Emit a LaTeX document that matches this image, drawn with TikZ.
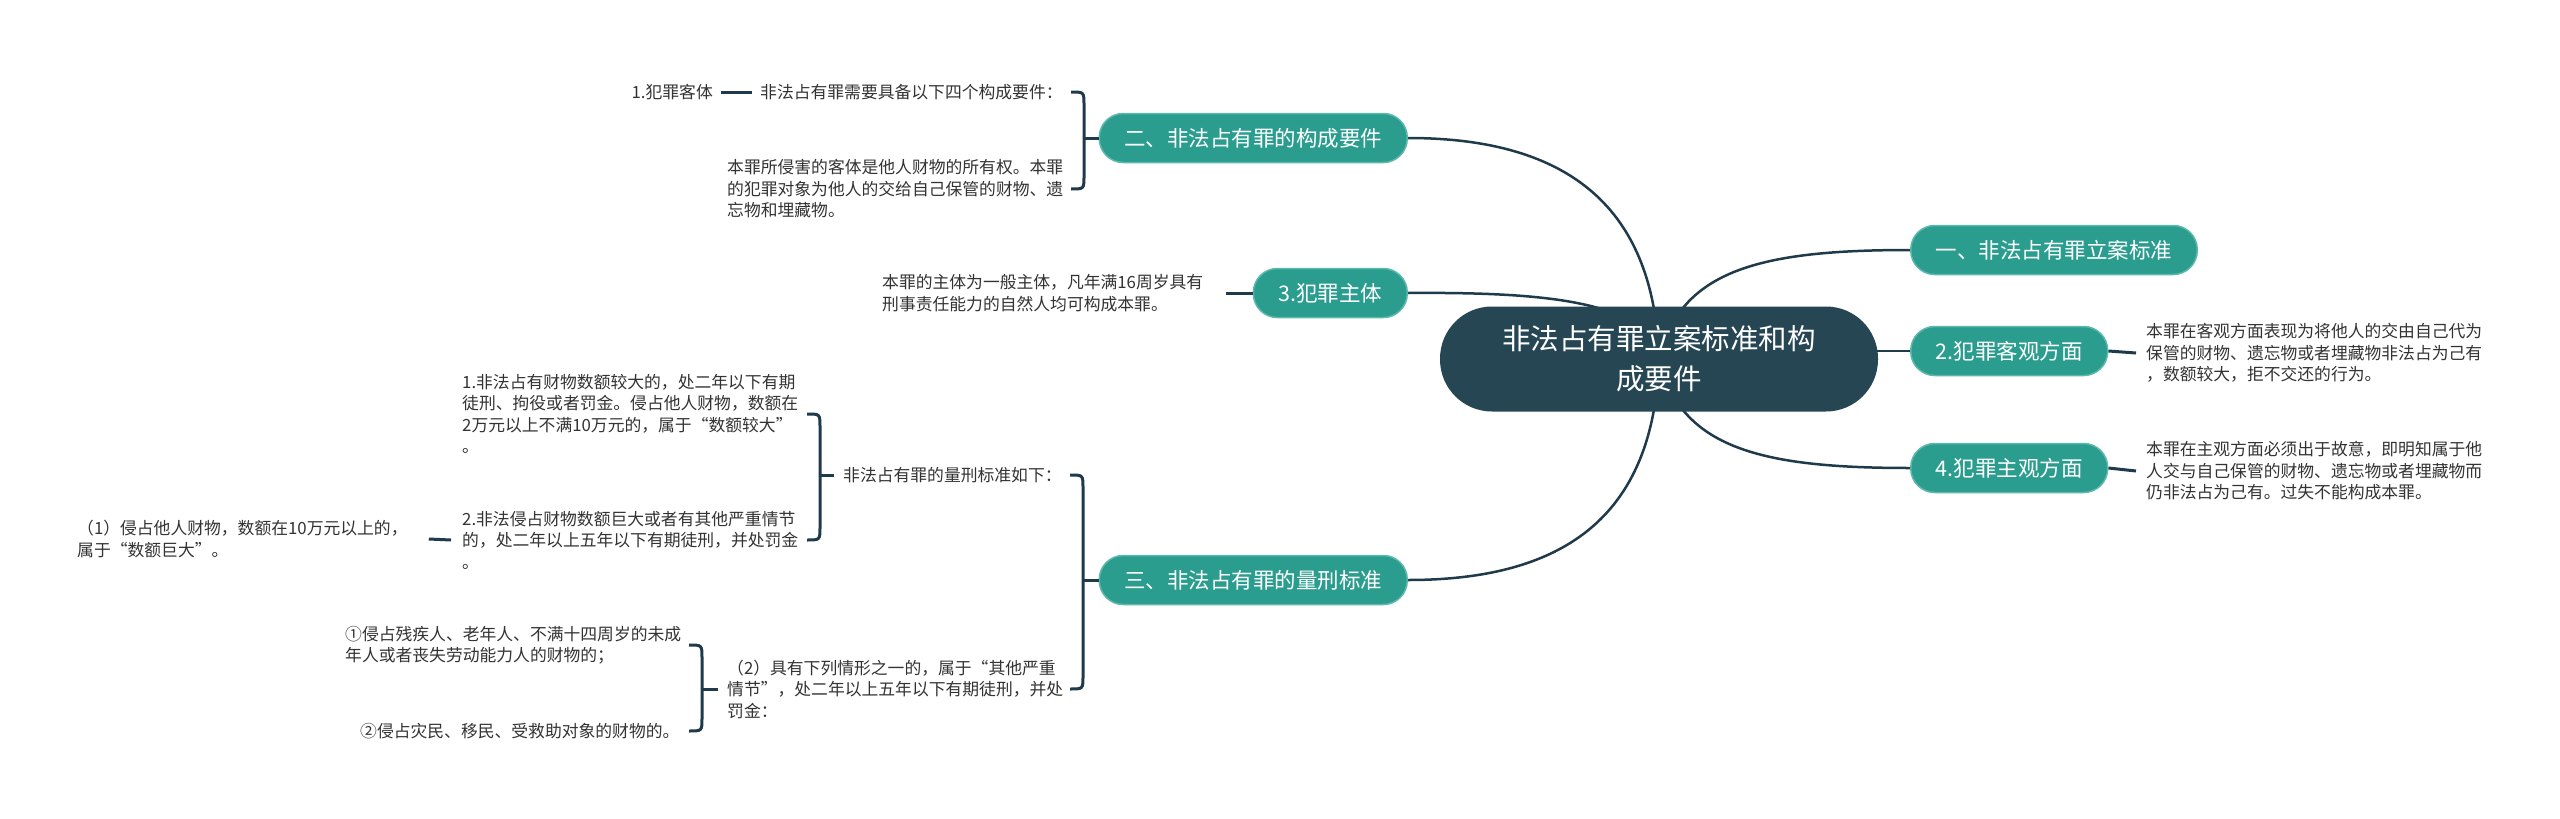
\documentclass[tikz,border=0pt]{standalone}
\usepackage{fontspec}
\setmainfont{Noto Sans CJK SC}
\usetikzlibrary{calc,backgrounds}
\definecolor{teal1}{HTML}{2A9D8F}
\definecolor{tealb}{HTML}{5DB8AC}
\definecolor{dark1}{HTML}{264653}
\definecolor{line1}{HTML}{1F3A4A}
\definecolor{txt1}{HTML}{333333}
\tikzset{
 mainnode/.style={fill=teal1, draw=tealb, line width=1.5pt, text=white, rounded corners=24pt, minimum height=49pt, inner xsep=25pt, inner ysep=0pt, font=\fontsize{21.5}{26}\selectfont},
 centernode/.style={fill=dark1, text=white, rounded corners=52pt, minimum height=105pt, minimum width=438pt, align=center, inner sep=0pt, font=\fontsize{28.5}{40}\selectfont},
 txtnode/.style={text=txt1, align=left, inner sep=0pt, font=\fontsize{16.8}{21.5}\selectfont},
 conn/.style={draw=line1, line width=2.5pt},
 brk/.style={draw=line1, line width=3pt},
}
\newcommand{\mybrk}[3]{%
 \draw[brk] ($(#1 |- #2)+(-13,0)$) .. controls (#1 |- #2) .. ($(#1 |- #2)+(0,13)$) -- ($(#1 |- #3)+(0,-13)$) .. controls (#1 |- #3) .. ($(#1 |- #3)+(-13,0)$);}
\begin{document}
\begin{tikzpicture}[x=1pt,y=-1pt]
\useasboundingbox (0,0) rectangle (2560,819);

% central
\node[centernode] (c) at (1659,359) {非法占有罪立案标准和构\\成要件};

% right branch
\node[mainnode, anchor=west] (r1) at (1910,250) {一、非法占有罪立案标准};
\node[mainnode, anchor=west] (r2) at (1910,351) {2.犯罪客观方面};
\node[mainnode, anchor=west] (r4) at (1910,468) {4.犯罪主观方面};
\node[txtnode, anchor=west] (tr2) at (2146,353) {本罪在客观方面表现为将他人的交由自己代为\\保管的财物、遗忘物或者埋藏物非法占为己有\\，数额较大，拒不交还的行为。};
\node[txtnode, anchor=west] (tr4) at (2146,471) {本罪在主观方面必须出于故意，即明知属于他\\人交与自己保管的财物、遗忘物或者埋藏物而\\仍非法占为己有。过失不能构成本罪。};

% left branch
\node[mainnode, anchor=east] (l2) at (1408,138) {二、非法占有罪的构成要件};
\node[mainnode, anchor=east] (l3) at (1408,293) {3.犯罪主体};
\node[mainnode, anchor=east] (l5) at (1408,580) {三、非法占有罪的量刑标准};

\node[txtnode, anchor=west] (t2a) at (760,92) {非法占有罪需要具备以下四个构成要件：};
\node[txtnode, anchor=east] (t2c) at (713,92) {1.犯罪客体};
\node[txtnode, anchor=west] (t2b) at (727,189) {本罪所侵害的客体是他人财物的所有权。本罪\\的犯罪对象为他人的交给自己保管的财物、遗\\忘物和埋藏物。};
\node[txtnode, anchor=west] (t3) at (882,293) {本罪的主体为一般主体，凡年满16周岁具有\\刑事责任能力的自然人均可构成本罪。};

\node[txtnode, anchor=west] (tq) at (843,475) {非法占有罪的量刑标准如下：};
\node[txtnode, anchor=west] (tq1) at (462,414) {1.非法占有财物数额较大的，处二年以下有期\\徒刑、拘役或者罚金。侵占他人财物，数额在\\2万元以上不满10万元的，属于“数额较大”\\。};
\node[txtnode, anchor=west] (tq3) at (462,540) {2.非法侵占财物数额巨大或者有其他严重情节\\的，处二年以上五年以下有期徒刑，并处罚金\\。};
\node[txtnode, anchor=west] (tq4) at (77,539) {（1）侵占他人财物，数额在10万元以上的，\\属于“数额巨大”。};
\node[txtnode, anchor=west] (tq2) at (727,689) {（2）具有下列情形之一的，属于“其他严重\\情节”，处二年以上五年以下有期徒刑，并处\\罚金：};
\node[txtnode, anchor=west] (q1) at (345,645) {①侵占残疾人、老年人、不满十四周岁的未成\\年人或者丧失劳动能力人的财物的；};
\node[txtnode, anchor=west] (q2) at (360,731) {②侵占灾民、移民、受救助对象的财物的。};

% bracket x positions
\coordinate (b2) at (1084,0);
\coordinate (b5) at (1083,0);
\coordinate (bq) at (820,0);
\coordinate (bs) at (702,0);

% main connectors behind central node
\begin{scope}[on background layer]
\fill[white] (0,0) rectangle (2560,819);
\draw[conn] (c.center) .. controls (1654,200) and (1560,138) .. (l2.east);
\draw[conn] (c.center) .. controls (1650,300) and (1540,292) .. (l3.east);
\draw[conn] (c.center) .. controls (1654,520) and (1560,580) .. (l5.east);
\draw[conn] (c.center) .. controls (1680,270) and (1760,250) .. (r1.west);
\draw[conn] (c.center |- r2.west) -- (r2.west);
\draw[conn] (c.center) .. controls (1680,448) and (1760,468) .. (r4.west);
\end{scope}

% right leaf connectors
\draw[brk] (r2.east) -- ([xshift=-10pt]tr2.west);
\draw[brk] (r4.east) -- ([xshift=-10pt]tr4.west);

% 二 branch
\mybrk{b2}{t2a}{t2b}
\draw[brk] (b2 |- l2.west) -- (l2.west);
\draw[brk] ([xshift=8pt]t2c.east) -- ([xshift=-8pt]t2a.west);

% 3 branch
\draw[brk] ([xshift=23pt]t3.east) -- (l3.west);

% 三 branch
\mybrk{b5}{tq}{tq2}
\draw[brk] (b5 |- l5.west) -- (l5.west);
\mybrk{bq}{tq1}{tq3}
\draw[brk] (bq |- tq.west) -- ([xshift=-9pt]tq.west);
\draw[brk] ([xshift=21pt]tq4.east) -- ([xshift=-11pt]tq3.west);
\mybrk{bs}{q1}{q2}
\draw[brk] (bs |- tq2.west) -- ([xshift=-9pt]tq2.west);
\end{tikzpicture}
\end{document}
